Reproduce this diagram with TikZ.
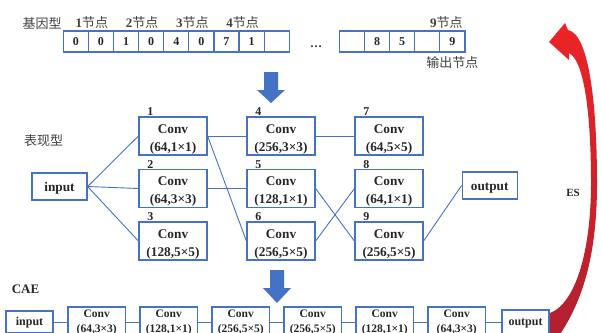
\documentclass[tikz,border=0pt]{standalone}
\usepackage{fontspec}
\setmainfont{Liberation Serif}
\newfontfamily\cjk{Noto Sans CJK SC}
\usetikzlibrary{positioning}
\definecolor{boxblue}{RGB}{68,114,196}
\definecolor{arrowblue}{RGB}{68,114,196}
\definecolor{esred}{RGB}{236,36,38}
\definecolor{esdark}{RGB}{176,32,48}
\definecolor{inkgray}{RGB}{38,38,38}
\definecolor{labelgray}{RGB}{64,64,64}

\begin{document}
\begin{tikzpicture}[x=1pt,y=-1pt,
gene/.style={draw=boxblue, line width=1.2pt, minimum width=25.1pt, minimum height=21pt, inner sep=0pt, outer sep=0pt, text=inkgray, font=\bfseries\fontsize{12}{12}\selectfont},
layer/.style={draw=boxblue, line width=1.2pt, minimum width=68pt, minimum height=38pt, inner sep=0pt, align=center, text=inkgray, text height=33pt, text depth=3pt, font=\bfseries\fontsize{13.3}{18}\selectfont},
port/.style={layer, minimum width=55pt, minimum height=27pt, text height=9pt, text depth=0pt},
caelayer/.style={layer, minimum width=57.5pt, minimum height=30pt, text height=23pt, text depth=3pt, font=\bfseries\fontsize{11.5}{15}\selectfont},
caeport/.style={caelayer, minimum width=47pt, minimum height=22pt, text height=9pt, text depth=2pt, font=\bfseries\fontsize{12}{15}\selectfont},
idx/.style={inner sep=0pt, text=inkgray, font=\bfseries\fontsize{12}{12}\selectfont},
cnlabel/.style={inner sep=0pt, text=labelgray, font=\cjk\fontsize{13}{13}\selectfont},
link/.style={draw=boxblue, line width=0.9pt}
]
    \useasboundingbox (0,0) rectangle (601,332);
    \clip (0,0) rectangle (601,332);

    \node[cnlabel] (geno) at (42,24) {基因型};
    \node[gene] (g1) at (75.85,41.5) {0};
    \node[gene, right=0pt of g1] (g2) {0};
    \node[gene, right=0pt of g2] (g3) {1};
    \node[gene, right=0pt of g3] (g4) {0};
    \node[gene, right=0pt of g4] (g5) {4};
    \node[gene, right=0pt of g5] (g6) {0};
    \node[gene, right=0pt of g6] (g7) {7};
    \node[gene, right=0pt of g7] (g8) {1};
    \node[gene, right=0pt of g8] (g9) {};
    \node[idx, anchor=base] (dots) at (316,47) {\ldots};
    \node[gene] (h1) at (352,41.5) {};
    \node[gene, right=0pt of h1] (h2) {8};
    \node[gene, right=0pt of h2] (h3) {5};
    \node[gene, right=0pt of h3] (h4) {};
    \node[gene, right=0pt of h4] (h5) {9};

    \node[cnlabel, above=2pt of g1.north east, xshift=3.5pt] (n1) {{\rmfamily\bfseries 1}节点};
    \node[cnlabel, above=2pt of g3.north east, xshift=3.5pt] (n2) {{\rmfamily\bfseries 2}节点};
    \node[cnlabel, above=2pt of g5.north east, xshift=3.5pt] (n3) {{\rmfamily\bfseries 3}节点};
    \node[cnlabel, above=2pt of g7.north east, xshift=3.5pt] (n4) {{\rmfamily\bfseries 4}节点};
    \node[cnlabel, above=2pt of h5.north, xshift=-6pt] (n9) {{\rmfamily\bfseries 9}节点};
    \node[cnlabel, below=4pt of h5.south] (outgene) {输出节点};

    \fill[arrowblue] (264,72) -- (278,72) -- (278,90) -- (285,90) -- (271,103) -- (257,90) -- (264,90) -- cycle;

    \node[cnlabel] (pheno) at (43.5,141) {表现型};
    \node[port] (in) at (59.5,186.5) {input};
    \node[layer] (b1) at (173,136) {Conv\\(64,1×1)};
    \node[layer, below=13.3pt of b1] (b2) {Conv\\(64,3×3)};
    \node[layer, below=13.3pt of b2] (b3) {Conv\\(128,5×5)};
    \node[layer, right=38.8pt of b1] (b4) {Conv\\(256,3×3)};
    \node[layer, right=38.8pt of b2] (b5) {Conv\\(128,1×1)};
    \node[layer, right=38.8pt of b3] (b6) {Conv\\(256,5×5)};
    \node[layer, right=38.8pt of b4] (b7) {Conv\\(64,5×5)};
    \node[layer, right=38.8pt of b5] (b8) {Conv\\(64,1×1)};
    \node[layer, right=38.8pt of b6] (b9) {Conv\\(256,5×5)};
    \node[port, right=38pt of b8, yshift=3pt] (out) {output};

    \node[idx, above=0.5pt of b1.north west, xshift=12pt] (i1) {1};
    \node[idx, above=0.5pt of b2.north west, xshift=12pt] (i2) {2};
    \node[idx, above=0.5pt of b3.north west, xshift=12pt] (i3) {3};
    \node[idx, above=0.5pt of b4.north west, xshift=12pt] (i4) {4};
    \node[idx, above=0.5pt of b5.north west, xshift=12pt] (i5) {5};
    \node[idx, above=0.5pt of b6.north west, xshift=12pt] (i6) {6};
    \node[idx, above=0.5pt of b7.north west, xshift=12pt] (i7) {7};
    \node[idx, above=0.5pt of b8.north west, xshift=12pt] (i8) {8};
    \node[idx, above=0.5pt of b9.north west, xshift=12pt] (i9) {9};

    \draw[link] (in.east) -- (b1.west);
    \draw[link] (in.east) -- (b2.west);
    \draw[link] (in.east) -- (b3.west);
    \draw[link] (b1.east) -- (b4.west);
    \draw[link] (b1.east) -- (b6.west);
    \draw[link] (b2.east) -- (b5.west);
    \draw[link] (b4.east) -- (b7.west);
    \draw[link] (b5.east) -- (b9.west);
    \draw[link] (b6.east) -- (b8.west);
    \draw[link] (b9.east) -- (out.west);

    \fill[arrowblue] (270,270) -- (284,270) -- (284,288) -- (291,288) -- (277,303) -- (263,288) -- (270,288) -- cycle;

    \node[idx, font=\bfseries\fontsize{13}{13}\selectfont] (caetitle) at (25.5,289) {CAE};
    \node[caeport] (cin) at (29.5,322) {input};
    \node[caelayer, right=13.8pt of cin] (c1) {Conv\\(64,3×3)};
    \node[caelayer, right=13.3pt of c1] (c2) {Conv\\(128,1×1)};
    \node[caelayer, right=13.3pt of c2] (c3) {Conv\\(256,5×5)};
    \node[caelayer, right=13.3pt of c3] (c4) {Conv\\(256,5×5)};
    \node[caelayer, right=13.3pt of c4] (c5) {Conv\\(128,1×1)};
    \node[caelayer, right=13.3pt of c5] (c6) {Conv\\(64,3×3)};
    \node[caeport, right=15.3pt of c6, minimum height=24pt] (cout) {output};

    \draw[link] (cin) -- (c1);
    \draw[link] (c1) -- (c2);
    \draw[link] (c2) -- (c3);
    \draw[link] (c3) -- (c4);
    \draw[link] (c4) -- (c5);
    \draw[link] (c5) -- (c6);
    \draw[link] (c6) -- (cout);

    \shade[top color=esred, middle color=esred, bottom color=esdark]
      (549,42) -- (565,23) -- (568,30) .. controls (590,34) and (597,110) .. (597,183)
      .. controls (597,250) and (585,300) .. (556,340) -- (550,340) -- (550,313)
      .. controls (576,303) and (591,250) .. (591,183)
      .. controls (591,125) and (586,62) .. (569,53) -- (569,60) -- cycle;
    \node[idx, font=\bfseries\fontsize{11}{11}\selectfont] (es) at (573,193) {ES};
\end{tikzpicture}
\end{document}
